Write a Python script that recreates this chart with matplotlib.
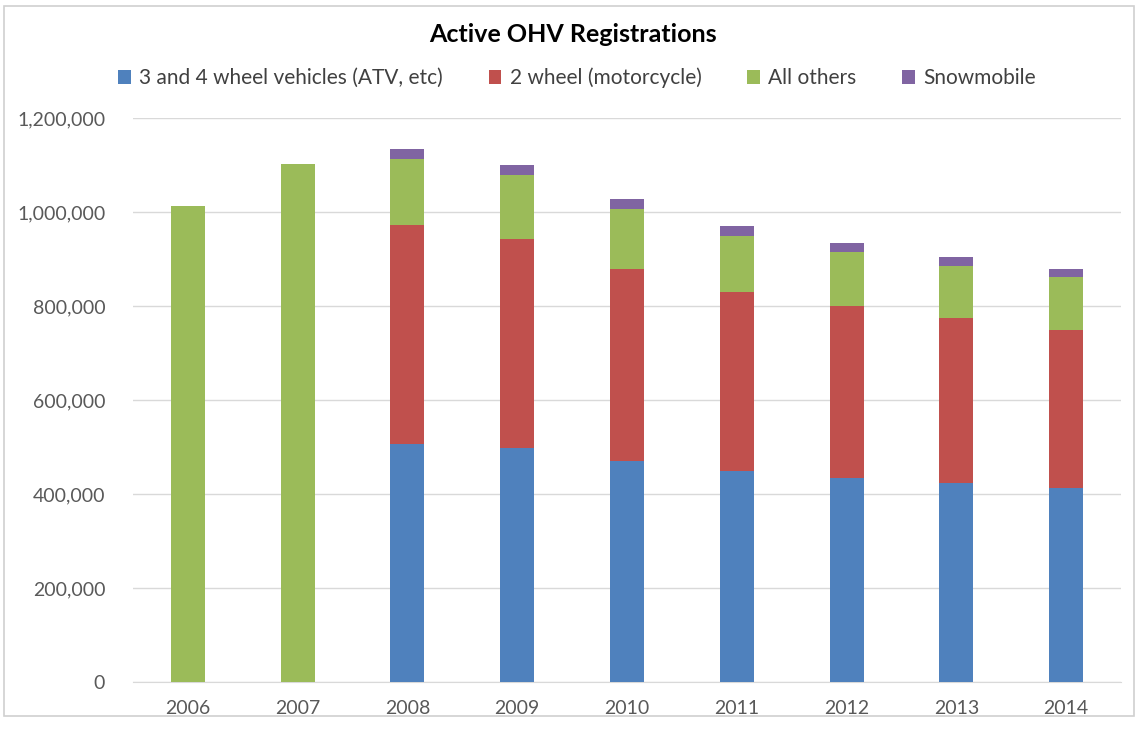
import matplotlib
matplotlib.use("Agg")
import matplotlib.pyplot as plt
from matplotlib.patches import Rectangle
import numpy as np

years = ["2006", "2007", "2008", "2009", "2010", "2011", "2012", "2013", "2014"]
atv = [0, 0, 506000, 497000, 470000, 448000, 434000, 423000, 413000]
moto = [0, 0, 466000, 446000, 409000, 382000, 365000, 352000, 335000]
others = [1013000, 1102000, 140000, 136000, 127000, 119000, 115000, 111000, 113000]
snow = [0, 0, 23000, 22000, 22000, 21000, 19000, 19000, 18000]
series_names = ["3 and 4 wheel vehicles (ATV, etc)", "2 wheel (motorcycle)", "All others", "Snowmobile"]
colors = ["#4F81BD", "#C0504D", "#9BBB59", "#8064A2"]
yticks = [0, 200000, 400000, 600000, 800000, 1000000, 1200000]

plt.rcParams['font.family'] = ['Lato', 'DejaVu Sans']

fig = plt.figure(figsize=(11.38, 7.32), dpi=100)
ax = fig.add_axes([133/1138, 1 - 682/732, (1121-133)/1138, (682-118)/732])

x = np.arange(len(years))
bottom = np.zeros(len(years))
for vals, name, c in zip([atv, moto, others, snow], series_names, colors):
    ax.bar(x, vals, width=0.31, bottom=bottom, color=c, label=name, zorder=3)
    bottom += np.array(vals)

ax.set_xlim(-0.5, len(years) - 0.5)
ax.set_ylim(0, 1200000)
ax.set_yticks(yticks)
ax.set_yticklabels([f"{v:,}" for v in yticks])
ax.set_xticks(x)
ax.set_xticklabels(years)
ax.tick_params(axis='both', length=0, labelsize=14, colors="#595959")
ax.tick_params(axis='y', pad=20)
ax.tick_params(axis='x', pad=13)
ax.grid(axis='y', color="#D9D9D9", linewidth=1, zorder=0)
for s in ["top", "right", "left"]:
    ax.spines[s].set_visible(False)
ax.spines["bottom"].set_color("#D9D9D9")

fig.text(573/1138, 1 - 34/732, "Active OHV Registrations", ha="center", va="center",
         fontsize=18, fontweight="bold", color="black")

handles, labels = ax.get_legend_handles_labels()
fig.legend(handles, labels, loc="center", bbox_to_anchor=(577/1138, 1 - 78/732), ncol=4,
           frameon=False, fontsize=15, handlelength=0.6, handleheight=0.6,
           columnspacing=2.2, handletextpad=0.4, labelcolor="#404040")

fig.patches.append(Rectangle((4/1138, 16/732), 1130/1138, 710/732, transform=fig.transFigure,
                             fill=False, edgecolor="#D0D0D0", linewidth=1.2))

fig.savefig("out.png", dpi=100)
